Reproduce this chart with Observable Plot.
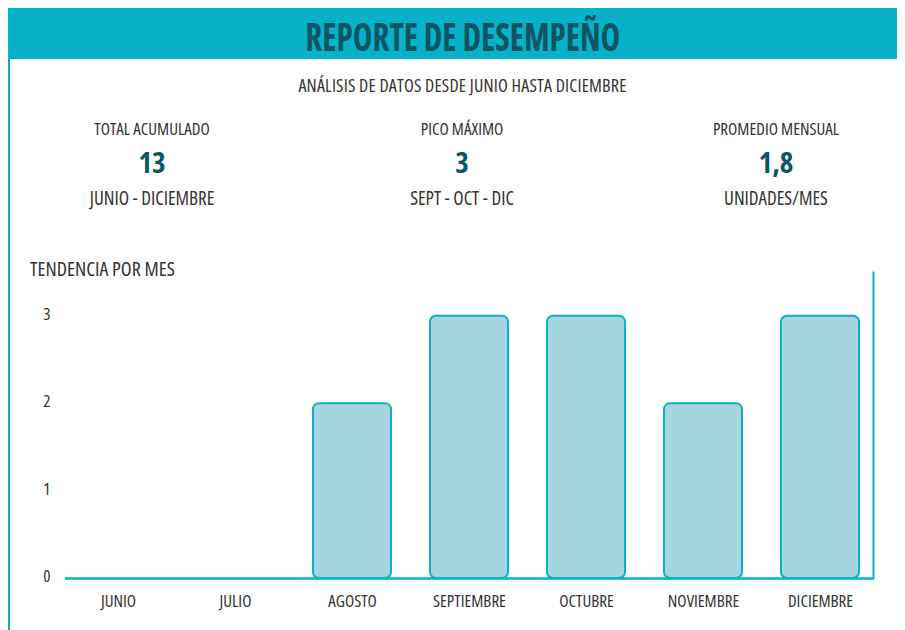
<!DOCTYPE html>
<html>
<head>
<meta charset="utf-8">
<script src="https://cdn.jsdelivr.net/npm/d3@7"></script>
<script src="https://cdn.jsdelivr.net/npm/@observablehq/plot@0.6"></script>
<style>
  html, body { margin: 0; padding: 0; background: #fff; }
  #wrap { position: relative; width: 905px; height: 630px; overflow: hidden;
          font-family: "Open Sans", sans-serif; font-stretch: 75%; color: #333; }
  #header { position: absolute; left: 8px; top: 8px; width: 889px; height: 51px; background: #06b1c9; }
  #title { position: absolute; left: 10px; width: 100%; top: 8px; text-align: center;
           font-size: 40px; font-weight: 700; color: #0c5663; line-height: 40px; }
  #title span { display: inline-block; transform: scaleX(0.83); transform-origin: 50% 50%; }
  #leftline { position: absolute; left: 8px; top: 59px; width: 2px; height: 571px; background: #06b1c9; }
  #subtitle { position: absolute; left: 0; width: 925px; top: 75px; text-align: center; font-size: 18px; line-height: 20px; letter-spacing: 0.2px; }
  .kpi { position: absolute; width: 260px; text-align: center; }
  .kpi .lab { position: absolute; top: 0; width: 100%; font-size: 17px; line-height: 20px; }
  .kpi .val { position: absolute; top: 27px; width: 100%; font-size: 29px; font-weight: 700; color: #0c5663; line-height: 32px; }
  .kpi .sub { position: absolute; top: 68px; width: 100%; font-size: 19px; line-height: 22px; }
  #trend { position: absolute; left: 30px; top: 258px; font-size: 20px; line-height: 22px; }
  #chart { position: absolute; left: 0; top: 262px; }
</style>
</head>
<body>
<div id="wrap">
  <div id="header"><div id="title"><span></span></div></div>
  <div id="leftline"></div>
  <div id="subtitle"></div>
  <div id="kpis"></div>
  <div id="trend"></div>
  <div id="chart"></div>
</div>
<script>
const titleText = "REPORTE DE DESEMPEÑO";
const subtitleText = "ANÁLISIS DE DATOS DESDE JUNIO HASTA DICIEMBRE";
const chartLabel = "TENDENCIA POR MES";
const months = ["JUNIO", "JULIO", "AGOSTO", "SEPTIEMBRE", "OCTUBRE", "NOVIEMBRE", "DICIEMBRE"];
const values = [0, 0, 2, 3, 3, 2, 3];
const yTicks = [0, 1, 2, 3];
const kpiLabels = ["TOTAL ACUMULADO", "PICO MÁXIMO", "PROMEDIO MENSUAL"];
const kpiValues = ["13", "3", "1,8"];
const kpiSubs = ["JUNIO - DICIEMBRE", "SEPT - OCT - DIC", "UNIDADES/MES"];
const kpiCenters = [152, 462, 776];

document.querySelector("#title span").textContent = titleText;
document.getElementById("subtitle").textContent = subtitleText;
document.getElementById("trend").textContent = chartLabel;

const kpis = document.getElementById("kpis");
kpiLabels.forEach((l, i) => {
  const d = document.createElement("div");
  d.className = "kpi";
  d.style.left = (kpiCenters[i] - 130) + "px";
  d.style.top = "119px";
  d.innerHTML = `<div class="lab"></div><div class="val"></div><div class="sub"></div>`;
  d.querySelector(".lab").textContent = l;
  d.querySelector(".val").textContent = kpiValues[i];
  d.querySelector(".sub").textContent = kpiSubs[i];
  kpis.appendChild(d);
});

const data = months.map((m, i) => ({month: m, value: values[i]}));
const teal = "#08b2c9";

const plot = Plot.plot({
  width: 905,
  height: 358,
  marginLeft: 65,
  marginRight: 32,
  marginTop: 10,
  marginBottom: 42,
  style: {fontFamily: '"Open Sans", sans-serif', fontStretch: "75%", fontSize: "17px", color: "#333", background: "transparent"},
  x: {domain: months, paddingInner: 0.335, paddingOuter: 0.11, label: null},
  y: {domain: [0, 3.5], label: null},
  marks: [
    Plot.barY(data, {x: "month", y: "value", fill: "#a6d5e0", stroke: teal, strokeWidth: 2, rx: 6}),
    Plot.ruleY([0], {stroke: teal, strokeWidth: 2.5}),
    Plot.frame({anchor: "right", stroke: teal, strokeWidth: 2}),
    Plot.axisY({ticks: yTicks, tickSize: 0, tickPadding: 15, label: null, fontSize: 17, dy: -2, tickFormat: d => String(d)}),
    Plot.axisX({tickSize: 0, tickPadding: 16, label: null, fontSize: 17})
  ]
});
document.getElementById("chart").appendChild(plot);
</script>
</body>
</html>
